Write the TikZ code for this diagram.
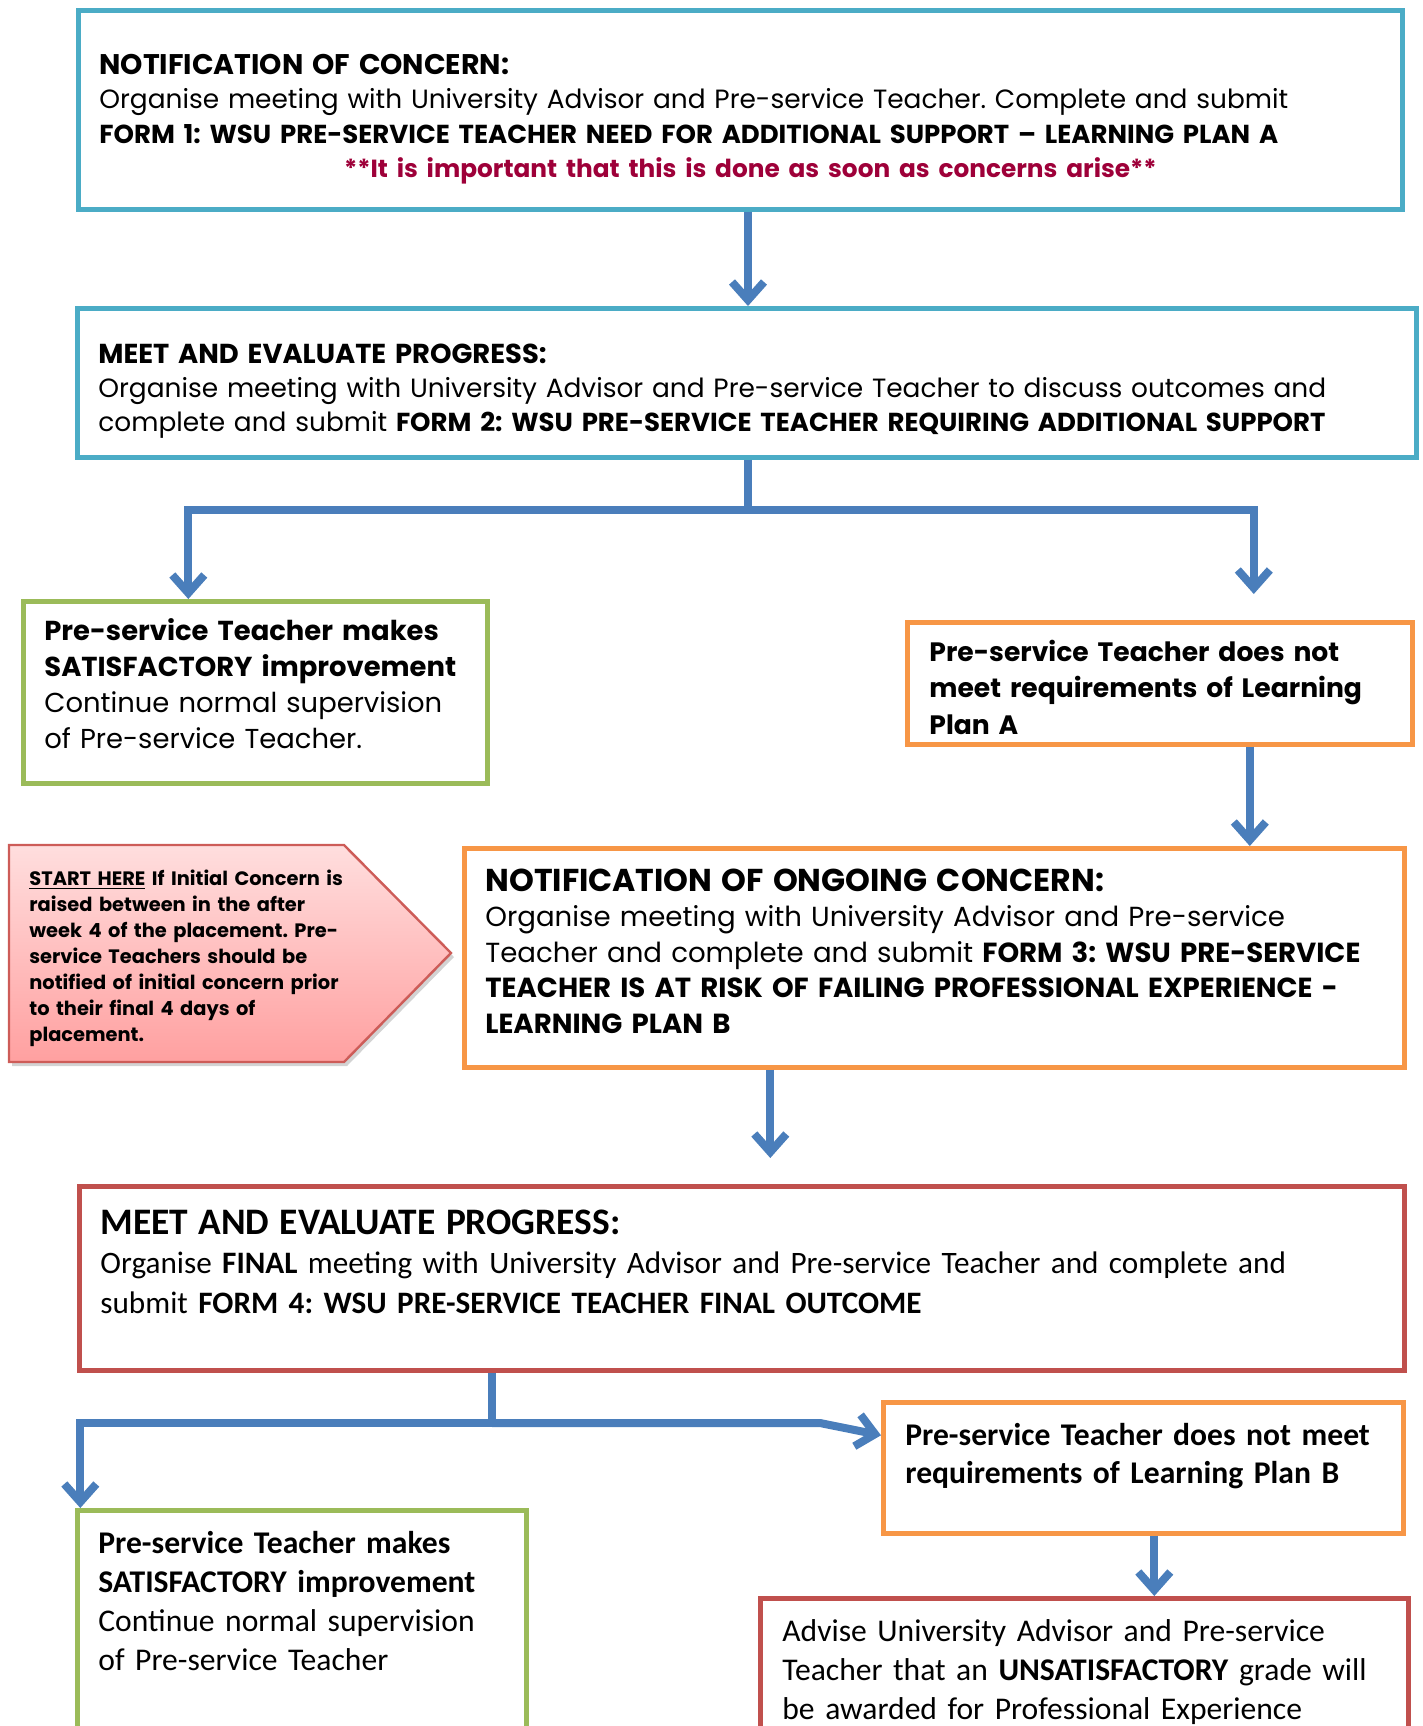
\documentclass[tikz,border=0pt]{standalone}
\usepackage{fontspec}
\newfontfamily\gothic{Poppins}
\newfontfamily\calib{Carlito}
\usetikzlibrary{arrows.meta,positioning,shadows}
\definecolor{aqua}{RGB}{75,172,198}
\definecolor{leaf}{RGB}{155,187,89}
\definecolor{amber}{RGB}{247,150,70}
\definecolor{brick}{RGB}{192,80,77}
\definecolor{arrowblue}{RGB}{74,126,187}
\definecolor{alert}{RGB}{158,0,57}
\definecolor{pinktop}{RGB}{255,222,222}
\definecolor{pinkbot}{RGB}{255,160,160}
\definecolor{pinkline}{RGB}{205,92,88}
\frenchspacing
\newcommand{\formline}[1]{{\fontsize{13}{17}\selectfont\textbf{#1}}}
\tikzset{
  box/.style={draw=#1,fill=white,line width=2.3pt,inner sep=0pt,anchor=north west},
  flow/.style={-{Straight Barb[length=9pt,width=16pt]},line width=4pt,draw=arrowblue},
  link/.style={line width=4pt,draw=arrowblue},
  txt/.style={anchor=base west,align=left,inner sep=0pt,text width=#1},
  gfont/.style 2 args={font=\gothic\fontsize{#1}{#2}\selectfont},
  cfont/.style 2 args={font=\calib\fontsize{#1}{#2}\selectfont},
}
\begin{document}
\begin{tikzpicture}[x=0.5pt,y=-0.5pt]
  \useasboundingbox (0,0) rectangle (1423,1726);
  \clip (0,0) rectangle (1423,1726);
  % frames
  \node[box=aqua,minimum width=662pt,minimum height=99.5pt] (notify) at (76,8) {};
  \node[box=aqua,minimum width=669.5pt,minimum height=74.5pt] (meet1) at (75,306) {};
  \node[box=leaf,minimum width=232pt,minimum height=91pt] (satA) at (21,599) {};
  \node[box=amber,minimum width=252.5pt,minimum height=61pt] (failA) at (905,620) {};
  \node[box=amber,minimum width=470pt,minimum height=109.5pt] (ongoing) at (462,846) {};
  \node[box=brick,minimum width=662.5pt,minimum height=92pt] (meet2) at (77,1184) {};
  \node[box=leaf,minimum width=224.5pt,minimum height=126pt] (satB) at (75,1508) {};
  \node[box=amber,minimum width=260pt,minimum height=65.5pt] (failB) at (881,1400) {};
  \node[box=brick,minimum width=324pt,minimum height=82pt] (unsat) at (758,1596) {};
  % start here pointer
  \draw[pinkline,line width=1.2pt,top color=pinktop,bottom color=pinkbot,
    drop shadow={shadow xshift=1.5pt,shadow yshift=-2pt,opacity=0.35}]
    (9,845) -- (344,845) -- (451,953) -- (344,1062) -- (9,1062) -- cycle;

  % texts
  \node[txt=651pt,gfont={13.2}{17.25}] (notifyT) at (99,74) {{\fontsize{14.2}{17.25}\selectfont\textbf{NOTIFICATION OF CONCERN:}}\\
    Organise meeting with University Advisor and Pre-service Teacher. Complete and submit\\
    \formline{FORM 1: WSU PRE-SERVICE TEACHER NEED FOR ADDITIONAL SUPPORT – LEARNING PLAN A}\\
    \makebox[\linewidth]{\fontsize{12.4}{17.25}\selectfont\color{alert}\textbf{**It is important that this is done as soon as concerns arise**}}};
  \node[txt=660pt,gfont={13.2}{17}] (meet1T) at (98,363) {{\fontsize{13.7}{17}\selectfont\textbf{MEET AND EVALUATE PROGRESS:}}\\
    Organise meeting with University Advisor and Pre-service Teacher to discuss outcomes and\\
    complete and submit \formline{FORM 2: WSU PRE-SERVICE TEACHER REQUIRING ADDITIONAL SUPPORT}};
  \node[txt=225pt,gfont={13.7}{18}] (satAT) at (44,640) {\textbf{Pre-service Teacher makes}\\
    \textbf{SATISFACTORY improvement}\\ Continue normal supervision\\ of Pre-service Teacher.};
  \node[txt=245pt,gfont={13.3}{18.25}] (failAT) at (929,661) {\textbf{Pre-service Teacher does not}\\
    \textbf{meet requirements of Learning}\\ \textbf{Plan A}};
  \node[txt=215pt,gfont={9.7}{13}] (startT) at (29,885) {\bfseries\underline{START HERE} If Initial Concern is\\
    raised between in the after\\ week 4 of the placement. Pre-\\ service Teachers should be\\
    notified of initial concern prior\\ to their final 4 days of\\ placement.};
  \node[txt=460pt,gfont={13.8}{17.8}] (ongoingT) at (485,891) {{\fontsize{15.8}{17.8}\selectfont\textbf{NOTIFICATION OF ONGOING CONCERN:}}\\
    Organise meeting with University Advisor and Pre-service\\
    Teacher and complete and submit \textbf{FORM 3: WSU PRE-SERVICE}\\
    \textbf{TEACHER IS AT RISK OF FAILING PROFESSIONAL EXPERIENCE -}\\ \textbf{LEARNING PLAN B}};
  \node[txt=650pt,cfont={15.6}{19.8}] (meet2T) at (100,1234) {{\fontsize{18.7}{19.8}\selectfont\textbf{MEET AND EVALUATE PROGRESS:}}\\
    Organise \textbf{FINAL} meeting with University Advisor and Pre-service Teacher and complete and\\
    submit \textbf{FORM 4: WSU PRE-SERVICE TEACHER FINAL OUTCOME}};
  \node[txt=215pt,cfont={15.8}{19.5}] (satBT) at (98,1553) {\textbf{Pre-service Teacher makes}\\
    \textbf{SATISFACTORY improvement}\\ Continue normal supervision\\ of Pre-service Teacher};
  \node[txt=250pt,cfont={15.8}{19}] (failBT) at (905,1445) {\textbf{Pre-service Teacher does not meet}\\
    \textbf{requirements of Learning Plan B}};
  \node[txt=315pt,cfont={15.8}{19.5}] (unsatT) at (782,1641) {Advise University Advisor and Pre-service\\
    Teacher that an \textbf{UNSATISFACTORY} grade will\\ be awarded for Professional Experience};

  % connectors
  \coordinate (forkA) at (748,510);
  \coordinate (forkB) at (492,1423);
  \draw[flow] (notify.south -| forkA) -- (meet1.north -| forkA);
  \draw[link] (meet1.south -| forkA) -- (forkA);
  \draw[flow] (forkA) -| ([xshift=-33.5pt]satA.north);
  \draw[flow,shorten >=13pt] (forkA) -| ([xshift=47pt]failA.north);
  \draw[flow] ([xshift=45pt]failA.south) -- ([xshift=45pt]failA.south |- ongoing.north);
  \draw[flow,shorten >=13pt] ([xshift=-82pt]ongoing.south) -- ([xshift=-82pt]ongoing.south |- meet2.north);
  \draw[link] (meet2.south -| forkB) -- (forkB);
  \draw[flow] (forkB) -| ([xshift=-110.75pt]satB.north);
  \draw[flow] (forkB) -- (820,1423) -- ([yshift=16.25pt]failB.west);
  \draw[flow] ([xshift=5.5pt]failB.south) -- ([xshift=5.5pt]failB.south |- unsat.north);
\end{tikzpicture}
\end{document}
